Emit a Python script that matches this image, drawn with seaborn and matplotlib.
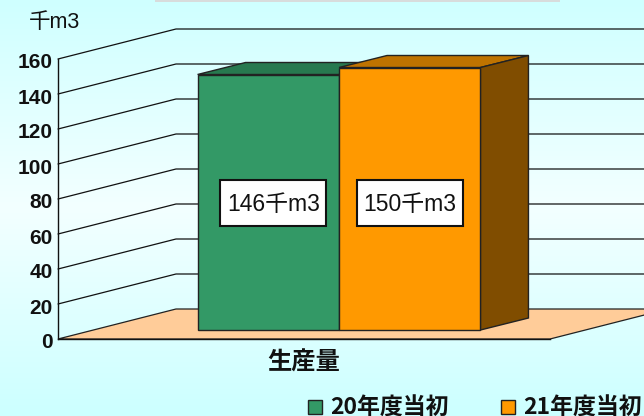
import numpy as np
import pandas as pd
import matplotlib
matplotlib.use('Agg')
import matplotlib.pyplot as plt
import seaborn as sns
from matplotlib.colors import LinearSegmentedColormap
from matplotlib.patches import Polygon, Rectangle
from matplotlib.transforms import Affine2D, IdentityTransform

category = ['生産量']
years = ['20年度当初', '21年度当初']
volumes = [146, 150]
value_labels = ['146千m3', '150千m3']
y_ticks = [0, 20, 40, 60, 80, 100, 120, 140, 160]

W, H = 644, 416
LATIN = ['Liberation Sans', 'Noto Sans CJK JP']
CJK = ['Noto Sans CJK JP', 'DejaVu Sans']

sns.set_theme(style='white')
plt.rcParams['font.family'] = CJK

df = pd.DataFrame({'item': category * 2, 'year': years, 'volume': volumes})

fig = plt.figure(figsize=(W / 100, H / 100), dpi=100)

# page background, light in the middle
bg = fig.add_axes([0, 0, 1, 1], zorder=0)
cmap = LinearSegmentedColormap.from_list('page', ['#CFFFFF', '#F3FFFF', '#CCFFFF'])
bg.imshow(np.linspace(0, 1, 256).reshape(-1, 1), cmap=cmap, aspect='auto', extent=(0, W, 0, H))
bg.add_patch(Rectangle((155, H - 2), 405, 2, color='#D8DCDC', lw=0))
bg.axis('off')

ax = fig.add_axes([58 / W, (H - 339) / H, 492 / W, 280 / H], zorder=1)
ax.patch.set_alpha(0)

sns.barplot(data=df, x='item', y='volume', hue='year', palette=['#339966', '#FF9900'],
            width=0.575, edgecolor='#222222', linewidth=1, saturation=1, ax=ax, zorder=5)
ax.set_ylim(0, 160)
ax.set_xlim(-0.5, 0.5)
ax.set_yticks(y_ticks)
ax.set_xlabel('')
ax.set_ylabel('')


def px(x, y, depth=(0, 0)):
    p = ax.transData.transform((x, y))
    return p[0] + depth[0], p[1] + depth[1]


def face(points, color, z=4, edge='#222222', lw=1):
    ax.add_patch(Polygon(points, closed=True, facecolor=color, edgecolor=edge, lw=lw,
                         transform=IdentityTransform(), clip_on=False, zorder=z))


# floor and back wall of the 3d box
back = (118, 30)
x0, x1 = ax.get_xlim()
face([px(x0, 0), px(x1, 0), px(x1, 0, back), px(x0, 0, back)], '#FFCC99', z=1, lw=0.9)
for v in y_ticks[1:]:
    a, b, c = px(x0, v), px(x0, v, back), px(x1, v, back)
    ax.plot([a[0], b[0], c[0]], [a[1], b[1], c[1]], color='#111111', lw=0.9,
            transform=IdentityTransform(), clip_on=False, zorder=2)

# bars stand inside the box, so move them in and give them depth
front = (35, 9)
rear = (83, 21)
shades = [('#27794F', '#1E5F3E'), ('#BF7300', '#804D00')]
bars = [p for p in ax.patches if isinstance(p, Rectangle) and p.get_height() > 0][:2]
label_y = min(volumes) / 2
for i, bar in enumerate(bars):
    l, r, top = bar.get_x(), bar.get_x() + bar.get_width(), bar.get_height()
    z = 3 + i * 2
    face([px(l, top, front), px(r, top, front), px(r, top, rear), px(l, top, rear)], shades[i][0], z)
    face([px(r, 0, front), px(r, top, front), px(r, top, rear), px(r, 0, rear)], shades[i][1], z)
    bar.set_transform(IdentityTransform())
    bar.set_bounds(*px(l, 0, front), px(r, 0)[0] - px(l, 0)[0], px(l, top)[1] - px(l, 0)[1])
    bar.set_clip_on(False)
    bar.set_zorder(z + 1)

    cx, cy = px((l + r) / 2, label_y, front)
    cx += 5 if i == 0 else 0
    cy -= 1
    ax.add_patch(Rectangle((cx - 53, cy - 23), 106, 46, facecolor='white', edgecolor='#111111', lw=1.5,
                           transform=IdentityTransform(), clip_on=False, zorder=9))
    ax.text(cx, cy - 1, value_labels[i], family=LATIN, fontsize=16.5, color='#111111', ha='center', va='center',
            transform=IdentityTransform(), zorder=10)

sns.despine(ax=ax)
for s in ['left', 'bottom']:
    ax.spines[s].set_color('#111111')
    ax.spines[s].set_linewidth(1)
    ax.spines[s].set_zorder(3)

ax.tick_params(axis='y', length=0, pad=4)
for t in ax.get_yticklabels():
    t.set_family(LATIN)
    t.set_fontweight('bold')
    t.set_fontsize(15)
    t.set_color('#111111')
    t.set_transform(t.get_transform() + Affine2D().translate(0, -2))

ax.set_xticks([0], category)
ax.tick_params(axis='x', length=0, pad=8)
for t in ax.get_xticklabels():
    t.set_fontweight('bold')
    t.set_fontsize(17.5)
    t.set_color('#111111')
ax.set_xticks([-0.5, 0.5], minor=True)
ax.tick_params(axis='x', which='minor', direction='in', length=3.6, width=0.8, color='#111111')

fig.text(55 / W, 1 - 22 / H, '千m3', family=LATIN, fontsize=15.5, color='#111111', ha='center', va='center')

sns.move_legend(ax, 'lower left', bbox_to_anchor=(308 / W, -4 / H), bbox_transform=fig.transFigure,
                ncol=2, title=None, frameon=False, prop={'weight': 'bold', 'size': 16.5},
                handlelength=0.6, handleheight=0.6, handletextpad=0.35, columnspacing=2.3,
                borderpad=0, borderaxespad=0, labelcolor='#111111')

fig.savefig('out.png', dpi=100, facecolor='#E8FFFF')
